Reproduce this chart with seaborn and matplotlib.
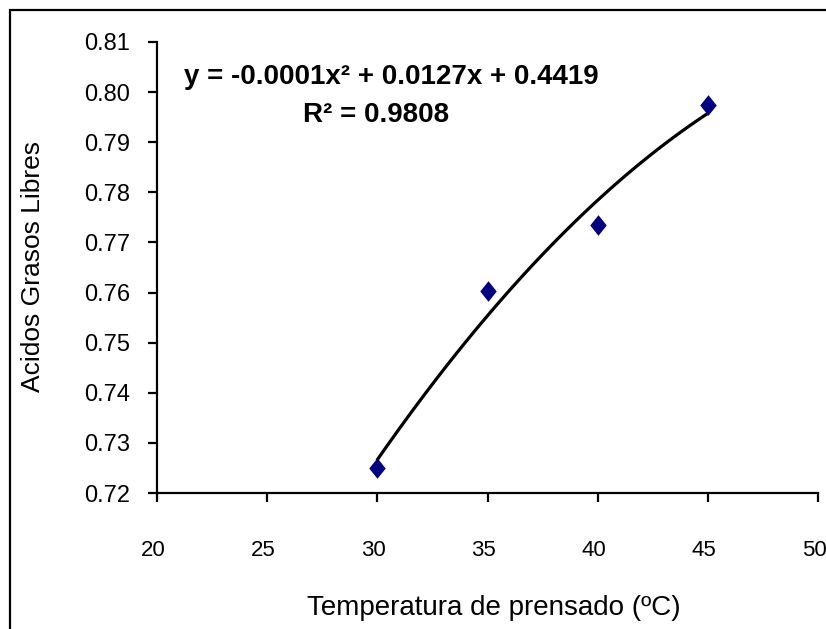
"""
Acidos grasos libres vs temperatura de prensado, con ajuste polinomico
"""
import numpy as np
import pandas as pd
import matplotlib
matplotlib.use("Agg")
import matplotlib.pyplot as plt
import matplotlib.patches as mpatches
import matplotlib.transforms as mtransforms
import seaborn as sns

temperatura = [30, 35, 40, 45]
acidos = [0.7250, 0.7603, 0.7735, 0.7974]
x_ticks = [20, 25, 30, 35, 40, 45, 50]
y_ticks = [0.72, 0.73, 0.74, 0.75, 0.76, 0.77, 0.78, 0.79, 0.80, 0.81]
ecuacion = "y = -0.0001x² + 0.0127x + 0.4419"
r2_texto = "R² = 0.9808"

sns.set_style("white")
plt.rcParams["font.family"] = ["Liberation Sans", "DejaVu Sans"]
plt.rcParams["text.color"] = "black"
plt.rcParams["axes.labelcolor"] = "black"
plt.rcParams["xtick.color"] = "black"
plt.rcParams["ytick.color"] = "black"

df = pd.DataFrame({"temp": temperatura, "agl": acidos})

# trendline (2nd order) like the spreadsheet one
coef = np.polyfit(df["temp"], df["agl"], 2)
xs = np.linspace(min(temperatura), max(temperatura), 60)
fit = pd.DataFrame({"temp": xs, "agl": np.polyval(coef, xs)})

# slightly tall diamond, as in the original
diamante = [(0, 1), (0.8, 0), (0, -1), (-0.8, 0), (0, 1)]

fig = plt.figure(figsize=(8.26, 6.29), dpi=100)
ax = fig.add_axes([157 / 826, 1 - 493 / 629, 661 / 826, 451 / 629])

sns.lineplot(data=fit, x="temp", y="agl", color="black", linewidth=2.3, ax=ax)
sns.scatterplot(data=df, x="temp", y="agl", marker=diamante, s=220, color="#000080",
                edgecolor="#000080", linewidth=0, zorder=5, ax=ax)

ax.set_xlim(20, 50)
ax.set_ylim(0.72, 0.81)
ax.set_xticks(x_ticks)
ax.set_yticks(y_ticks)
ax.set_xticklabels([str(t) for t in x_ticks])
ax.set_yticklabels([f"{t:.2f}" for t in y_ticks])

for s in ["top", "right"]:
    ax.spines[s].set_visible(False)
for s in ["left", "bottom"]:
    ax.spines[s].set_linewidth(1.6)
    ax.spines[s].set_color("black")

ax.tick_params(axis="both", direction="out", length=6.5, width=1.6,
               left=True, bottom=True)
ax.tick_params(axis="x", pad=27, labelsize=16)
ax.tick_params(axis="y", pad=13, labelsize=17)

# x tick labels sit a little left of their ticks in the original
shift = mtransforms.ScaledTranslation(-4 / 100, 0, fig.dpi_scale_trans)
for lab in ax.get_xticklabels():
    lab.set_transform(lab.get_transform() + shift)

ax.set_xlabel("Temperatura de prensado (ºC)", fontsize=20)
ax.xaxis.set_label_coords(0.51, -0.226)
ax.set_ylabel("Acidos Grasos Libres", fontsize=19)
ax.yaxis.set_label_coords(-0.169, 0.503)

ax.text(0.354, 0.922, ecuacion, transform=ax.transAxes, ha="center", va="center",
        fontsize=20, fontweight="bold")
ax.text(0.331, 0.838, r2_texto, transform=ax.transAxes, ha="center", va="center",
        fontsize=20, fontweight="bold")

# outer chart frame
fig.patches.append(mpatches.Rectangle((10 / 826, -0.1), 2, 1.1 - 10 / 629,
                                      transform=fig.transFigure, fill=False,
                                      edgecolor="black", linewidth=1.6))

fig.savefig("out.png", dpi=100)
